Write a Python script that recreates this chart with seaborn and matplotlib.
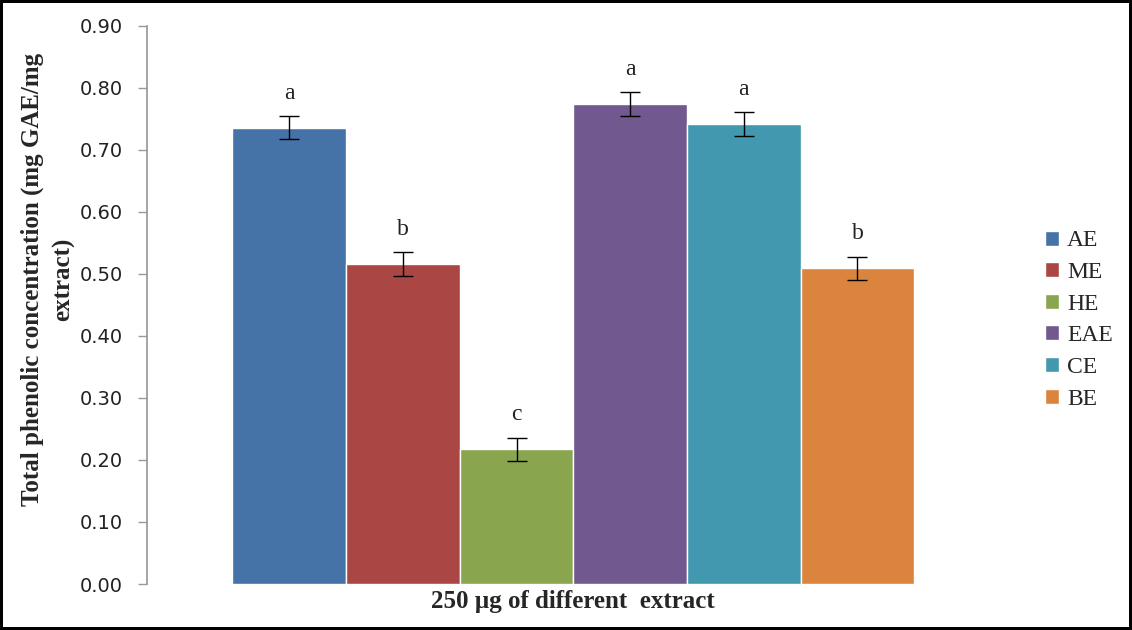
import matplotlib
matplotlib.use("Agg")
import matplotlib.pyplot as plt
import seaborn as sns
import pandas as pd
import numpy as np

sns.set_theme(style="white")
plt.rcParams["font.family"] = ["DejaVu Sans"]

# data
extracts = ["AE", "ME", "HE", "EAE", "CE", "BE"]
values = [0.736, 0.516, 0.217, 0.774, 0.742, 0.509]
errors = [0.018, 0.019, 0.019, 0.019, 0.019, 0.019]
letters = ["a", "b", "c", "a", "a", "b"]
colors = ["#4572A7", "#AA4643", "#89A54E", "#71588F", "#4198AF", "#DB843D"]

df = pd.DataFrame({
    "group": ["250 µg"] * len(extracts),
    "extract": extracts,
    "value": values,
})

fig = plt.figure(figsize=(11.32, 6.30), dpi=100)
ax = fig.add_axes([0.130, 0.073, 0.753, 0.886])

sns.barplot(
    data=df, x="group", y="value", hue="extract",
    hue_order=extracts, palette=colors, width=0.8,
    errorbar=None, saturation=1, ax=ax, legend=True
)

# error bars and significance letters on top of each bar
for patch, val, err, let in zip(ax.patches, values, errors, letters):
    cx = patch.get_x() + patch.get_width() / 2
    ax.errorbar(cx, val, yerr=err, fmt="none", ecolor="black",
                elinewidth=1, capsize=7, capthick=1)
    ax.text(cx, val + err + 0.02, let, ha="center", va="bottom",
            fontsize=17, family="Liberation Serif", color="#222222")

ax.set_ylim(0, 0.9)
ax.set_yticks(np.arange(0, 0.91, 0.1))
ax.set_yticklabels([f"{t:.2f}" for t in np.arange(0, 0.91, 0.1)],
                   fontsize=14, color="#222222")
ax.set_xticks([])
ax.set_xlim(-0.5, 0.5)

for s in ["top", "right", "bottom"]:
    ax.spines[s].set_visible(False)
ax.spines["left"].set_color("#999999")
ax.tick_params(axis="y", left=True, length=6.5, color="#999999", width=1,
               pad=11)

ax.set_ylabel("Total phenolic concentration (mg GAE/mg\nextract)",
              fontsize=18, fontweight="bold", family="Liberation Serif",
              linespacing=1.45)
ax.yaxis.set_label_coords(-0.084, 0.545)
ax.set_xlabel("250 µg of different  extract", fontsize=18, fontweight="bold",
              family="Liberation Serif", labelpad=4)

ax.legend(loc="center left", bbox_to_anchor=(1.028, 0.473), frameon=False,
          prop={"family": "Liberation Serif", "size": 17},
          handlelength=0.6, handleheight=0.6, handletextpad=0.35,
          labelspacing=0.45)

fig.patch.set_edgecolor("black")
fig.patch.set_linewidth(3)

fig.savefig("out.png", dpi=100, edgecolor=fig.get_edgecolor())
